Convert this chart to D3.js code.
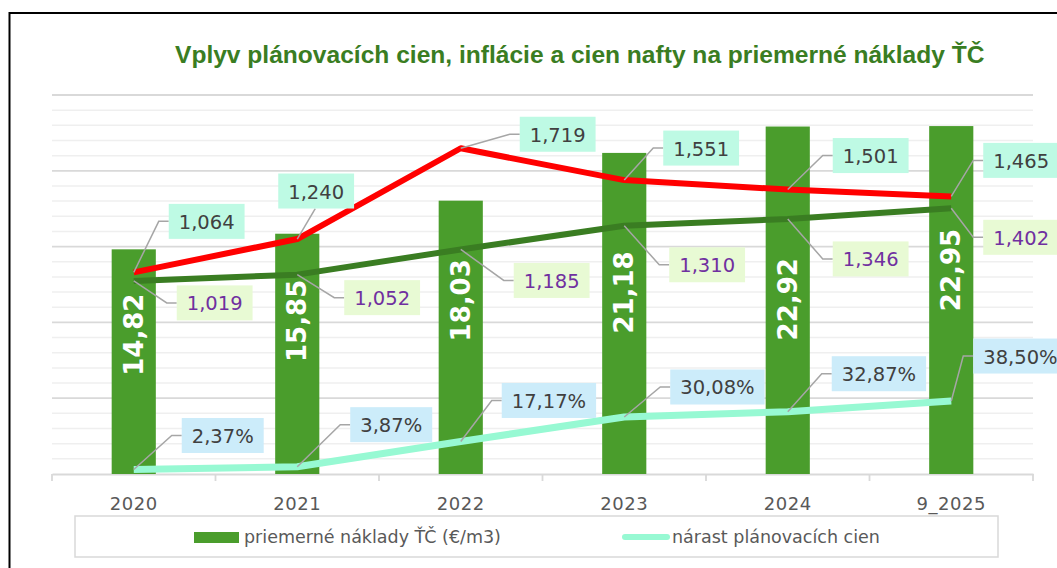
<!DOCTYPE html>
<html lang="sk">
<head>
  <meta charset="UTF-8">
  <title>Vplyv plánovacích cien</title>
  <script src="https://d3js.org/d3.v7.min.js"></script>
  <style>
    body { margin: 0; background: #fff; }
    svg { display: block; font-family: "DejaVu Sans", "Liberation Sans", sans-serif; }
    .grid-minor { stroke: #efefef; stroke-width: 1.5px; }
    .grid-major { stroke: #d9d9d9; stroke-width: 1.8px; }
    .axis-label { fill: #595959; font-size: 18px; }
    .legend-text { fill: #595959; font-size: 17.5px; }
    .callout text { font-size: 19.5px; }
  </style>
</head>
<body>
  <div id="chart"></div>
  <script>
    const title = "Vplyv plánovacích cien, inflácie a cien nafty na priemerné náklady ŤČ";
    const years = ["2020", "2021", "2022", "2023", "2024", "9_2025"];
    const avgCost = [14.82, 15.85, 18.03, 21.18, 22.92, 22.95];
    const dieselPrice = [1.064, 1.240, 1.719, 1.551, 1.501, 1.465];
    const inflation = [1.019, 1.052, 1.185, 1.310, 1.346, 1.402];
    const planGrowth = [0.0237, 0.0387, 0.1717, 0.3008, 0.3287, 0.3850];
    const legendLabels = ["priemerné náklady ŤČ (€/m3)", "nárast plánovacích cien"];

    // callouts were dragged by hand in the original, so keep their offsets
    // (box left edge, box middle) relative to the data point
    const dieselPos = [[35, -51], [-19, -48], [59, -14], [39, -32], [45, -34], [32, -36]];
    const inflationPos = [[43, 22], [47, 23], [53, 31], [45, 39], [45, 40], [32, 29]];
    const growthPos = [[48, -34], [53, -42], [41, -41], [46, -30], [44, -38], [22, -45]];
    const barLabelShift = [-27, -33, -37, -21, -1, -30];

    const width = 1057, height = 568;
    const cBar = "#4a9d2c", cDark = "#3a7d22", cRed = "#ff0000", cAqua = "#97f9d3";

    const loc = d3.formatLocale({ decimal: ",", thousands: " ", grouping: [3], currency: ["", "€"] });
    const f2 = loc.format(".2f"), f3 = loc.format(".3f"), fp = loc.format(".2%");

    const svg = d3.select("#chart").append("svg")
      .attr("width", width)
      .attr("height", height);

    // frame
    svg.append("rect")
      .attr("x", 9.5).attr("y", 13)
      .attr("width", width + 20).attr("height", height + 20)
      .attr("fill", "none").attr("stroke", "#000").attr("stroke-width", 2);

    // title: narrow bold, sized so it spans the same width as the original
    const titleText = svg.append("text")
      .attr("x", 175).attr("y", 63)
      .attr("fill", cDark)
      .style("font-family", "'Liberation Sans Narrow', 'Liberation Sans', sans-serif")
      .style("font-weight", "bold").style("font-size", "27px")
      .text(title);
    const tLen = titleText.node().getComputedTextLength();
    titleText.style("font-size", (27 * 810 / tLen) + "px");

    const x = d3.scaleBand().domain(years).range([52, 1033]).padding(0);
    const y = d3.scaleLinear().domain([0, 25]).range([474, 95]);
    const y2 = d3.scaleLinear().domain([0, 2]).range([474, 95]);

    // gridlines: 1 unit minor, 5 units major
    const grid = svg.append("g");
    grid.selectAll("line")
      .data(d3.range(1, 26))
      .join("line")
      .attr("class", d => d % 5 === 0 ? "grid-major" : "grid-minor")
      .attr("x1", 52).attr("x2", 1033)
      .attr("y1", d => y(d)).attr("y2", d => y(d));

    // category axis
    const xAxis = svg.append("g")
      .attr("transform", `translate(0,${y(0)})`)
      .call(d3.axisBottom(x).tickSize(0).tickPadding(0));
    xAxis.select(".domain").attr("stroke", "#d9d9d9").attr("stroke-width", 1.8);
    xAxis.selectAll(".tick text").remove();
    xAxis.selectAll(".bound")
      .data(d3.range(0, years.length + 1))
      .join("line")
      .attr("x1", i => 52 + i * x.step()).attr("x2", i => 52 + i * x.step())
      .attr("y1", 0).attr("y2", 7)
      .attr("stroke", "#d9d9d9").attr("stroke-width", 1.8);
    svg.append("g").selectAll("text")
      .data(years)
      .join("text")
      .attr("class", "axis-label")
      .attr("x", d => x(d) + x.bandwidth() / 2)
      .attr("y", 510)
      .attr("text-anchor", "middle")
      .attr("letter-spacing", 0.5)
      .text(d => d);

    // bars
    const barW = x.bandwidth() * 0.27;
    const cx = i => x(years[i]) + x.bandwidth() / 2;
    svg.append("g").selectAll("rect")
      .data(avgCost)
      .join("rect")
      .attr("x", (d, i) => cx(i) - barW / 2)
      .attr("y", d => y(d))
      .attr("width", barW)
      .attr("height", d => y(0) - y(d))
      .attr("fill", cBar);

    svg.append("g").selectAll("text")
      .data(avgCost)
      .join("text")
      .attr("transform", (d, i) => `translate(${cx(i)},${(y(d) + y(0)) / 2 + barLabelShift[i]}) rotate(-90)`)
      .attr("text-anchor", "middle")
      .attr("dominant-baseline", "central")
      .attr("fill", "#fff")
      .style("font-weight", "bold").style("font-size", "26px")
      .text(d => f2(d));

    // lines on the secondary axis
    const line = d3.line().x((d, i) => cx(i)).y(d => y2(d));
    [[inflation, cDark, 6], [dieselPrice, cRed, 6], [planGrowth, cAqua, 7]].forEach(([vals, col, w]) => {
      svg.append("path")
        .datum(vals)
        .attr("d", line)
        .attr("fill", "none")
        .attr("stroke", col)
        .attr("stroke-width", w)
        .attr("stroke-linejoin", "round");
    });

    // callouts with leader lines
    function callouts(vals, pos, fmt, fill, textCol) {
      const g = svg.append("g").attr("class", "callout");
      vals.forEach((v, i) => {
        const px = cx(i), py = y2(v);
        const left = px + pos[i][0], mid = py + pos[i][1];
        const t = g.append("text")
          .attr("fill", textCol)
          .attr("dominant-baseline", "central")
          .text(fmt(v));
        const tw = t.node().getComputedTextLength();
        const bw = tw + 20, bh = 35;
        let pts;
        if (pos[i][0] > 8) {
          pts = [[px, py], [left - 10, mid], [left, mid]];
        } else {
          pts = [[px, py], [px + 18, mid + bh / 2]];
        }
        g.insert("path", "text")
          .attr("d", d3.line()(pts))
          .attr("fill", "none")
          .attr("stroke", "#a6a6a6")
          .attr("stroke-width", 1.5);
        g.insert("rect", "text")
          .attr("x", left).attr("y", mid - bh / 2)
          .attr("width", bw).attr("height", bh)
          .attr("fill", fill);
        t.attr("x", left + 10).attr("y", mid + 1);
      });
    }
    callouts(dieselPrice, dieselPos, f3, "#befae4", "#404040");
    callouts(inflation, inflationPos, f3, "#e8fad4", "#7030a0");
    callouts(planGrowth, growthPos, fp, "#ccecfa", "#404040");

    // legend
    const lg = svg.append("g");
    lg.append("rect")
      .attr("x", 75).attr("y", 516)
      .attr("width", 923).attr("height", 41)
      .attr("fill", "#fff").attr("stroke", "#d9d9d9").attr("stroke-width", 1.5);
    lg.append("rect")
      .attr("x", 194).attr("y", 532).attr("width", 45).attr("height", 11)
      .attr("fill", cBar);
    lg.append("text").attr("class", "legend-text")
      .attr("x", 244).attr("y", 537).attr("dominant-baseline", "central")
      .text(legendLabels[0]);
    lg.append("line")
      .attr("x1", 625).attr("x2", 667).attr("y1", 537).attr("y2", 537)
      .attr("stroke", cAqua).attr("stroke-width", 6).attr("stroke-linecap", "round");
    lg.append("text").attr("class", "legend-text")
      .attr("x", 672).attr("y", 537).attr("dominant-baseline", "central")
      .text(legendLabels[1]);
  </script>
</body>
</html>
